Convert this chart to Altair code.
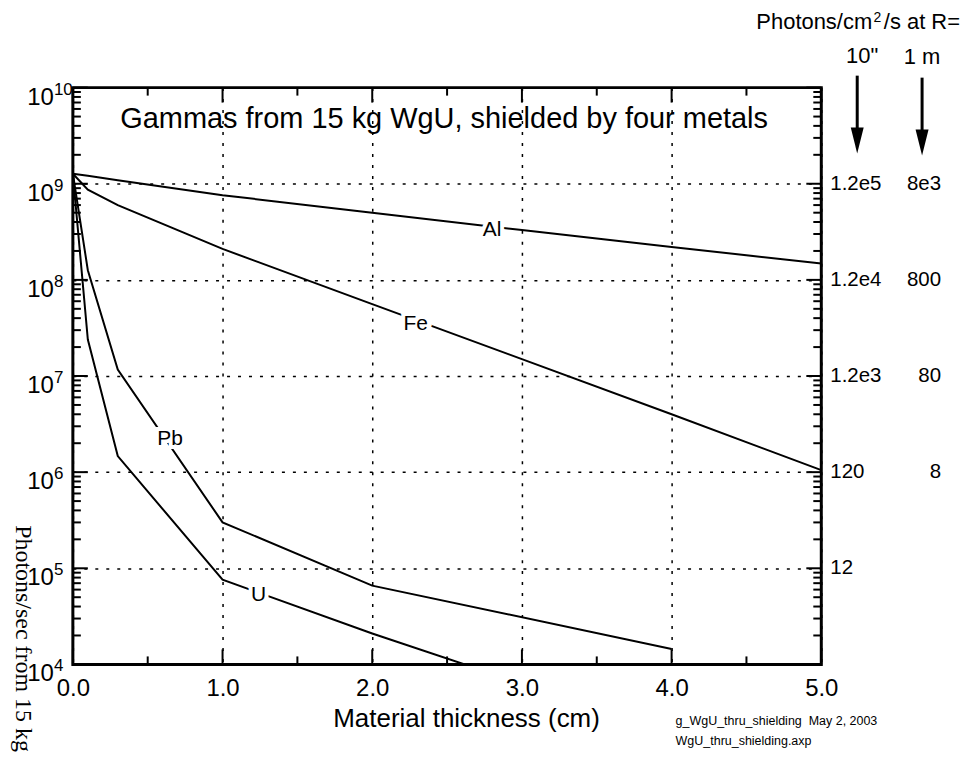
import altair as alt
import pandas as pd

FONT = "Liberation Sans"

# ---- data ----
al_x = [0, 0.1, 0.3, 1, 2, 3, 4, 5]
al_y = [1.27e9, 1.21e9, 1.09e9, 7.6e8, 5.0e8, 3.3e8, 2.2e8, 1.48e8]
fe_x = [0, 0.1, 0.3, 1, 2, 3, 4, 5]
fe_y = [1.27e9, 8.7e8, 6.0e8, 2.1e8, 5.6e7, 1.5e7, 4.0e6, 1.05e6]
pb_x = [0, 0.1, 0.3, 1, 2, 4]
pb_y = [1.27e9, 1.26e8, 1.17e7, 3.0e5, 6.6e4, 1.45e4]
u_x = [0, 0.1, 0.3, 1, 2, 4]
u_y = [1.27e9, 2.4e7, 1.47e6, 7.6e4, 2.1e4, 1.9e3]

label_names = ["Al", "Fe", "Pb", "U"]
label_x = [2.80, 2.29, 0.65, 1.24]
label_y = [3.31e8, 3.50e7, 2.19e6, 5.3e4]

decades = [1e4, 1e5, 1e6, 1e7, 1e8, 1e9, 1e10]
decade_exp = ["4", "5", "6", "7", "8", "9", "10"]

right_10in_vals = [1e9, 1e8, 1e7, 1e6, 1e5]
right_10in = ["1.2e5", "1.2e4", "1.2e3", "120", "12"]
right_1m_vals = [1e9, 1e8, 1e7, 1e6]
right_1m = ["8e3", "800", "80", "8"]

x_major = [0, 1, 2, 3, 4, 5]
x_minor = [0.5, 1.5, 2.5, 3.5, 4.5]
y_minor = [m * 10 ** e for e in range(4, 10) for m in range(2, 10)]

title_text = "Gammas from 15 kg WgU, shielded by four metals"
x_title = "Material thickness (cm)"
y_title = "Photons/sec from 15 kg"
header_a = "Photons/cm"
header_sup = "2"
header_b = "/s at R="
col_10in = "10\""
col_1m = "1 m"
footer1 = "g_WgU_thru_shielding\u00a0\u00a0May 2, 2003"
footer2 = "WgU_thru_shielding.axp"

# ---- tables ----
rows = []
for name, xs_, ys_ in [("Al", al_x, al_y), ("Fe", fe_x, fe_y), ("Pb", pb_x, pb_y), ("U", u_x, u_y)]:
    rows += [{"material": name, "t": a, "flux": b} for a, b in zip(xs_, ys_)]
lines_df = pd.DataFrame(rows)
labels_df = pd.DataFrame({"name": label_names, "t": label_x, "flux": label_y})
dec_df = pd.DataFrame({"flux": decades, "base": ["10"] * len(decades), "exp": decade_exp})
r10_df = pd.DataFrame({"flux": right_10in_vals, "txt": right_10in})
r1m_df = pd.DataFrame({"flux": right_1m_vals, "txt": right_1m})
xmaj_df = pd.DataFrame({"t": x_major})
xmin_df = pd.DataFrame({"t": x_minor})
ymaj_df = pd.DataFrame({"flux": decades})
ymin_df = pd.DataFrame({"flux": y_minor})
one = pd.DataFrame({"k": [0]})

W, H = 750, 578
xs = alt.Scale(domain=[0, 5], nice=False)
ys = alt.Scale(type="log", domain=[1e4, 1e10], nice=False)
GRID_DASH = [3, 8]

X_AX = alt.Axis(
    values=x_major, format=".1f", grid=True, gridDash=GRID_DASH, gridColor="black",
    gridWidth=1.5, gridOpacity=1, ticks=False, tickSize=0, domain=False,
    labelFontSize=24, labelFont=FONT, labelColor="black", labelPadding=12,
    labelFlush=False, title=x_title, titleFont=FONT, titleFontSize=26,
    titleFontWeight="normal", titleColor="black", titleX=394, titleY=62,
    titleAlign="center", titleBaseline="alphabetic")
Y_AX = alt.Axis(
    values=decades, grid=True, gridDash=GRID_DASH, gridColor="black", gridWidth=1.5,
    gridOpacity=1, labels=False, ticks=False, domain=False,
    title=y_title, titleFont="Liberation Serif", titleFontSize=24,
    titleFontWeight="normal", titleColor="black", titleAngle=90, titleAlign="left",
    titleBaseline="middle", titleX=-50, titleY=438)

def X():
    return alt.X("t:Q", scale=xs, axis=X_AX)

def Y():
    return alt.Y("flux:Q", scale=ys, axis=Y_AX)

lines = alt.Chart(lines_df).mark_line(color="black", strokeWidth=2, clip=True).encode(
    x=X(), y=Y(), detail="material:N")

halo = alt.Chart(labels_df).mark_text(fontSize=21, color="white", stroke="white", strokeWidth=8,
                                      baseline="middle").encode(x=X(), y=Y(), text="name:N")
labs = alt.Chart(labels_df).mark_text(fontSize=21, color="black", baseline="middle").encode(
    x=X(), y=Y(), text="name:N")

TW = 2
def yrule(df, x1, x2):
    return alt.Chart(df).mark_rule(color="black", strokeWidth=TW).encode(
        y=Y(), x=alt.value(x1), x2=alt.value(x2))

def xrule(df, y1, y2):
    return alt.Chart(df).mark_rule(color="black", strokeWidth=TW).encode(
        x=X(), y=alt.value(y1), y2=alt.value(y2))

ticks = [
    yrule(ymin_df, 0, 8), yrule(ymaj_df, 0, 15),
    yrule(ymin_df, W, W - 8), yrule(ymaj_df, W, W - 15),
    xrule(xmin_df, H, H - 8), xrule(xmaj_df, H, H - 15),
    xrule(xmin_df, 0, 8), xrule(xmaj_df, 0, 15),
]

ybase = alt.Chart(dec_df).mark_text(fontSize=24, align="right", baseline="alphabetic", dy=17,
                                    color="black").encode(y=Y(), x=alt.value(-19), text="base:N")
yexp = alt.Chart(dec_df).mark_text(fontSize=17, align="left", baseline="alphabetic", dy=7,
                                   color="black").encode(y=Y(), x=alt.value(-19), text="exp:N")

r10 = alt.Chart(r10_df).mark_text(fontSize=20.5, align="left", baseline="middle", color="black").encode(
    y=Y(), x=alt.value(W + 9), text="txt:N")
r1m = alt.Chart(r1m_df).mark_text(fontSize=20.5, align="right", baseline="middle", color="black").encode(
    y=Y(), x=alt.value(W + 120), text="txt:N")

def txt(s, x, y, size, align="left", baseline="alphabetic"):
    return alt.Chart(one).mark_text(fontSize=size, align=align, baseline=baseline, color="black",
                                    text=s).encode(x=alt.value(x), y=alt.value(y))

header = [
    txt(header_b, 889, -59, 22, align="right"),
    txt(header_sup, 810, -66, 14, align="right"),
    txt(header_a, 801, -59, 22, align="right"),
    txt(col_10in, 791, -25, 22, align="center"),
    txt(col_1m, 851, -24, 22, align="center"),
    txt(title_text, 372, 40, 29, align="center"),
    txt(footer1, 604, 639, 12.5),
    txt(footer2, 604, 659, 12.5),
]

ARROW = "M-0.5,-1L0.5,-1L0,1Z"
arrows = []
for ax, top, head in [(786, -12, 53), (851, -10, 55)]:
    arrows.append(alt.Chart(one).mark_rule(color="black", strokeWidth=3).encode(
        x=alt.value(ax), y=alt.value(top), y2=alt.value(head - 10)))
    arrows.append(alt.Chart(one).mark_point(shape=ARROW, filled=True, size=676, color="black",
                                            opacity=1, strokeWidth=0).encode(
        x=alt.value(ax), y=alt.value(head)))

chart = alt.layer(lines, halo, labs, *ticks, ybase, yexp, r10, r1m, *header, *arrows).properties(
    width=W, height=H,
    autosize=alt.AutoSizeParams(type="none"),
    padding={"left": 65, "top": 79, "right": 140, "bottom": 96},
).configure(font=FONT).configure_view(stroke="black", strokeWidth=3)

chart.save("out.html", embed_options={"renderer": "svg", "actions": False})
